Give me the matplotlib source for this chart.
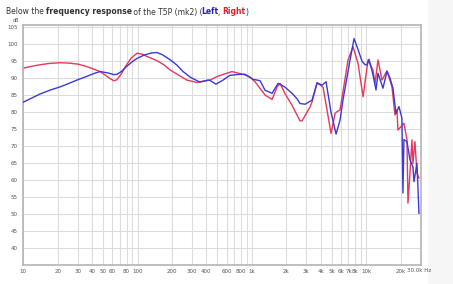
import matplotlib
matplotlib.use("Agg")
import matplotlib.pyplot as plt
import numpy as np
from matplotlib.patches import Rectangle

# ---- data ----
left_freq = [10, 12, 14, 17, 21, 25, 30, 36, 42, 47, 55, 62, 66, 72, 80, 90, 99, 115, 134, 148,
             164, 192, 221, 250, 290, 351, 413, 430, 485, 560, 643, 788, 871, 1024, 1110, 1179,
             1304, 1502, 1693, 1763, 1950, 2245, 2483, 2638, 2920, 3363, 3719, 4112, 4457, 4928,
             5450, 5907, 6277, 6939, 7226, 7834, 8488, 9204, 9800, 10170, 10590, 11480, 12190,
             12690, 14030, 15200, 16200, 17150, 18230, 19360, 20550, 20980, 21400, 22750,
             24170, 25660, 26190, 27820, 28970]
left_db = [83.0, 84.3, 85.4, 86.5, 87.5, 88.5, 89.6, 90.6, 91.5, 92.0, 91.6, 91.1, 91.2, 92.0,
           93.5, 94.9, 95.9, 96.9, 97.5, 97.6, 97.0, 95.5, 93.9, 92.0, 90.3, 88.9, 89.5, 89.4,
           88.3, 89.5, 90.9, 91.2, 91.2, 89.7, 89.5, 89.3, 86.5, 85.6, 88.5, 88.3, 87.4, 85.6,
           84.0, 82.6, 82.4, 83.6, 88.7, 88.0, 89.0, 80.0, 73.6, 77.7, 83.8, 92.0, 95.4, 101.7,
           98.5, 95.0, 94.0, 94.0, 95.6, 91.0, 86.6, 91.5, 87.1, 92.1, 90.0, 87.1, 79.7, 81.7,
           78.3, 56.3, 72.0, 71.4, 66.0, 64.0, 59.6, 65.0, 50.3]

right_freq = [10, 12, 14, 17, 21, 25, 30, 35, 40, 47, 52, 57, 62, 66, 72, 80, 88, 99, 110, 120,
              148, 170, 192, 220, 270, 331, 351, 430, 500, 670, 788, 871, 964, 1066, 1304, 1502,
              1661, 1763, 1950, 2245, 2638, 2748, 3228, 3363, 3719, 4196, 4928, 5345, 5560,
              5907, 6939, 7674, 8488, 9396, 10380, 11480, 11950, 12690, 13750, 15200, 16820,
              17860, 18590, 18970, 21400, 22750, 23210, 24170, 25150, 25660, 26720, 27820, 28970]
right_db = [93.0, 93.6, 94.0, 94.4, 94.6, 94.5, 94.2, 93.6, 92.9, 92.0, 91.0, 90.0, 89.3, 89.6,
            91.3, 94.0, 96.0, 97.4, 97.1, 96.5, 95.2, 94.0, 92.5, 91.3, 89.5, 88.8, 89.0, 89.5,
            90.6, 92.0, 91.4, 91.0, 90.4, 89.0, 85.1, 83.8, 87.5, 88.5, 85.5, 82.1, 77.5, 77.5,
            81.6, 83.1, 88.7, 87.4, 73.8, 79.7, 80.2, 80.7, 95.4, 99.3, 94.4, 84.6, 95.4, 92.4,
            88.5, 95.4, 89.5, 92.2, 87.5, 79.2, 80.7, 74.8, 76.8, 72.0, 53.3, 62.1, 71.9, 65.0,
            71.4, 62.1, 60.7]

xtick_vals = [10, 20, 30, 40, 50, 60, 80, 100, 200, 300, 400, 600, 800, 1000, 2000, 3000,
              4000, 5000, 6000, 7000, 8000, 10000, 20000]
xtick_labels = ['10', '20', '30', '40', '50', '60', '80', '100', '200', '300', '400', '600',
                '800', '1k', '2k', '3k', '4k', '5k', '6k', '7k', '8k', '10k', '20k']
ytick_vals = list(range(40, 106, 5))

BLUE = '#3a3ad6'
RED = '#e6375c'

W, H = 453, 284
fig = plt.figure(figsize=(W / 100, H / 100), dpi=100, facecolor='#f6f6f6')
bg = Rectangle((0, 0), 428 / W, 1, transform=fig.transFigure,
               facecolor='white', edgecolor='none', zorder=-10)
fig.patches.append(bg)

ax = fig.add_axes([23.3 / W, 1 - 265 / H, (420.7 - 23.3) / W, (265 - 25) / H])
ax.set_zorder(1)
ax.set_xscale('log')
ax.set_xlim(10, 30000)
ax.set_ylim(35.1, 105.7)

# grid
grid_x = [m * 10 ** e for e in range(1, 5) for m in range(1, 10) if m * 10 ** e <= 30000]
for gx in grid_x:
    ax.axvline(gx, color='#dcdcdc', lw=0.8, zorder=1)
for gy in ytick_vals:
    ax.axhline(gy, color='#dcdcdc', lw=0.8, zorder=1)

ax.plot(left_freq, left_db, color=BLUE, lw=1.0, zorder=3)
ax.plot(right_freq, right_db, color=RED, lw=1.0, zorder=2)

ax.set_xticks(xtick_vals)
ax.set_xticklabels(xtick_labels)
ax.xaxis.set_minor_locator(matplotlib.ticker.NullLocator())
ax.set_yticks(ytick_vals)
ax.set_yticklabels([str(v) for v in ytick_vals])
ax.tick_params(axis='both', length=0, labelsize=4, labelcolor='#555555')
ax.tick_params(axis='x', pad=3)
ax.tick_params(axis='y', pad=4)
for s in ax.spines.values():
    s.set_color('#b4b4b4')
    s.set_linewidth(1.2)

fig.text(407 / W, 1 - 270 / H, '30.0k Hz', ha='left', va='center', fontsize=4, color='#555555')
fig.text(16 / W, 1 - 20 / H, 'dB', ha='center', va='center', fontsize=3.5, color='#555555')

# title with mixed styles: (text, weight, colour, width adjustment in px)
pieces = [('Below the ', 'normal', '#333333', -0.5),
          ('frequency response', 'bold', '#333333', -0.5),
          (' of the T5P (mk2) (', 'normal', '#333333', -1.5),
          ('Left', 'bold', '#2222cc', -0.5),
          (', ', 'normal', '#333333', -0.5),
          ('Right', 'bold', '#e0202e', -0.5),
          (')', 'normal', '#333333', 0)]
renderer = fig.canvas.get_renderer()
x = 6
for txt, wt, col, adj in pieces:
    t = fig.text(x / W, 1 - 12 / H, txt, ha='left', va='center', fontsize=5.5,
                 fontweight=wt, color=col)
    bb = t.get_window_extent(renderer=renderer)
    x += bb.width + adj

fig.savefig('out.png', dpi=100, facecolor=fig.get_facecolor())
